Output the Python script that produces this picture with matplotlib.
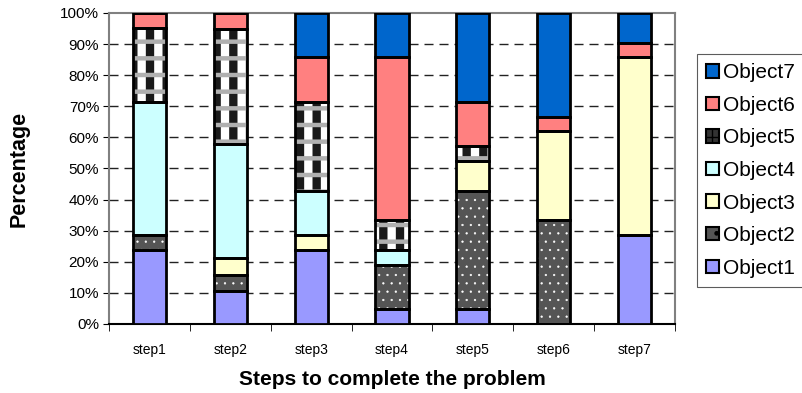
import numpy as np
import matplotlib
matplotlib.use('Agg')
import matplotlib.pyplot as plt

plt.rcParams['font.family'] = ['Liberation Sans', 'DejaVu Sans']

steps = ['step1', 'step2', 'step3', 'step4', 'step5', 'step6', 'step7']
objects = ['Object1', 'Object2', 'Object3', 'Object4', 'Object5', 'Object6', 'Object7']

# percentages (each step sums to 100)
object1 = [23.8, 10.5, 23.8, 4.8, 4.8, 0.0, 28.6]
object2 = [4.8, 5.3, 0.0, 14.3, 38.1, 33.3, 0.0]
object3 = [0.0, 5.3, 4.8, 0.0, 9.5, 28.6, 57.1]
object4 = [42.9, 36.8, 14.3, 4.8, 0.0, 0.0, 0.0]
object5 = [23.8, 36.8, 28.6, 9.5, 4.8, 0.0, 0.0]
object6 = [4.8, 5.3, 14.3, 52.4, 14.3, 4.8, 4.8]
object7 = [0.0, 0.0, 14.3, 14.3, 28.6, 33.3, 9.5]

series = [object1, object2, object3, object4, object5, object6, object7]
faces = ['#9999ff', '#555555', '#ffffcc', '#ccffff', '#1a1a1a', '#ff8080', '#0066cc']


def hatched_bar(ax, x, h, w, bottom, face, hatch, hcol, hlw, z):
    with plt.rc_context({'hatch.linewidth': hlw}):
        bars = ax.bar(x, h, w, bottom=bottom, color=face, hatch=hatch,
                      edgecolor=hcol, linewidth=0, zorder=z)
    for b in bars:
        if hasattr(b, 'set_hatch_linewidth'):
            b.set_hatch_linewidth(hlw)
    return bars


fig = plt.figure(figsize=(8.03, 3.93), dpi=100)
ax = fig.add_axes([0.1357, 0.1756, 0.7049, 0.7914])

x = np.arange(len(steps))
w = 0.41
bottom = np.zeros(len(steps))
for i, vals in enumerate(series):
    vals = np.array(vals)
    if i == 1:
        # dark grey with small white dots
        hatched_bar(ax, x, vals, w, bottom, faces[i], '..', 'white', 0.4, 3)
    elif i == 4:
        # black / white check with grey bands
        hatched_bar(ax, x, vals, w, bottom, faces[i], '|', 'white', 6.0, 3)
        hatched_bar(ax, x, vals, w, bottom, 'none', '-', '#b0b0b0', 3.2, 3.5)
    else:
        ax.bar(x, vals, w, bottom=bottom, color=faces[i], linewidth=0, zorder=3)
    ax.bar(x, vals, w, bottom=bottom, fill=False, edgecolor='black',
           linewidth=2.0, zorder=4)
    bottom += vals

# legend proxies
handles = []
for i in range(len(objects)):
    if i == 1:
        h = plt.Rectangle((0, 0), 1, 1, facecolor=faces[i], edgecolor='black',
                          hatch='.', linewidth=1.5)
    elif i == 4:
        h = plt.Rectangle((0, 0), 1, 1, facecolor='#333333', edgecolor='black',
                          hatch='++', linewidth=1.5)
    else:
        h = plt.Rectangle((0, 0), 1, 1, facecolor=faces[i], edgecolor='black',
                          linewidth=1.5)
    handles.append(h)

ax.set_xlim(-0.5, len(steps) - 0.5)
ax.set_ylim(0, 100)
ax.set_yticks(np.arange(0, 101, 10))
ax.set_yticklabels([f'{v}%' for v in range(0, 101, 10)], fontsize=11)
for v in range(10, 100, 10):
    ax.axhline(v, color='#222222', linestyle=(0, (6.5, 4.3)), linewidth=1.0, zorder=1)

ax.set_xticks(x)
ax.set_xticklabels(steps, fontsize=10)
ax.set_xticks(np.arange(-0.5, len(steps), 1), minor=True)
ax.tick_params(axis='x', which='major', length=0, pad=14)
ax.tick_params(axis='x', which='minor', length=5, direction='out', color='black')
ax.tick_params(axis='y', length=4, direction='out', pad=3)

for s in ['top', 'right', 'left']:
    ax.spines[s].set_color('#808080')
    ax.spines[s].set_linewidth(1.5)
ax.spines['bottom'].set_color('black')
ax.spines['bottom'].set_linewidth(1.5)

ax.set_ylabel('Percentage', fontsize=15.5, fontweight='bold', labelpad=22)
ax.set_xlabel('Steps to complete the problem', fontsize=15, fontweight='bold', labelpad=9)

leg = fig.legend(handles[::-1], objects[::-1], loc='upper left',
                 bbox_to_anchor=(697 / 803, 1 - 54 / 393), fontsize=15,
                 frameon=True, fancybox=False, edgecolor='#333333',
                 handlelength=0.62, handleheight=0.62, handletextpad=0.2,
                 labelspacing=0.65, borderpad=0.45, borderaxespad=0)
leg.get_frame().set_linewidth(0.8)

fig.savefig('out.png', dpi=100)
